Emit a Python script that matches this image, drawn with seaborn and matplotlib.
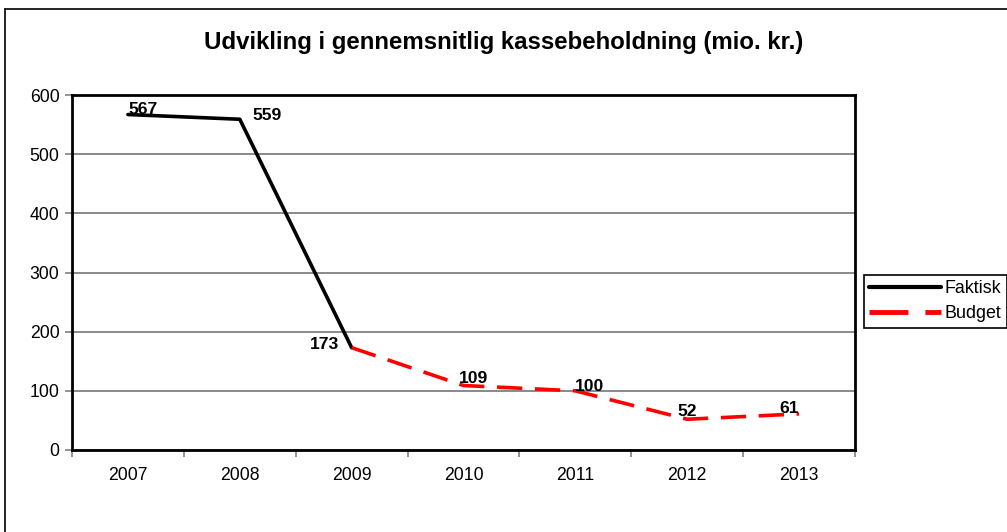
import matplotlib
matplotlib.use("Agg")
import matplotlib.pyplot as plt
import seaborn as sns
import pandas as pd
from matplotlib.lines import Line2D
from matplotlib.ticker import FixedLocator

years = ["2007", "2008", "2009", "2010", "2011", "2012", "2013"]
faktisk = [567, 559, 173]
budget = [173, 109, 100, 52, 61]
faktisk_years = years[:3]
budget_years = years[2:]

sns.set_theme(style="white")
plt.rcParams['font.family'] = ['Liberation Sans', 'DejaVu Sans']
plt.rcParams['text.color'] = 'black'

pos = {y: i for i, y in enumerate(years)}
df = pd.DataFrame({
    "year": faktisk_years + budget_years,
    "value": faktisk + budget,
    "series": ["Faktisk"] * len(faktisk) + ["Budget"] * len(budget),
})
df["x"] = df["year"].map(pos)

fig = plt.figure(figsize=(10.07, 5.32), dpi=100)
ax = fig.add_axes([72/1007, 1-450/532, (855-72)/1007, (450-95)/532])

sns.lineplot(data=df, x="x", y="value", hue="series", style="series",
             palette={"Faktisk": "black", "Budget": "#ff0000"},
             dashes={"Faktisk": "", "Budget": (7, 3.5)},
             linewidth=2.6, ax=ax, legend=False, sort=False)

ax.set_xlim(-0.5, len(years) - 0.5)
ax.set_ylim(0, 600)
ax.set_yticks(range(0, 601, 100))
ax.set_xticks(range(len(years)))
ax.set_xticklabels(years)
ax.xaxis.set_minor_locator(FixedLocator([i - 0.5 for i in range(len(years) + 1)]))
ax.tick_params(axis="x", which="major", length=0, pad=12, labelsize=12.7, colors="black")
ax.tick_params(axis="x", which="minor", length=5, width=1.2, color="#808080", direction="out", bottom=True)
ax.tick_params(axis="y", which="major", length=5, width=1.2, color="#808080", direction="out",
               left=True, labelsize=12.7, labelcolor="black", pad=4)
ax.set_xlabel("")
ax.set_ylabel("")
ax.yaxis.grid(True, color="#808080", linewidth=1.3)
ax.xaxis.grid(False)
for s in ax.spines.values():
    s.set_visible(True)
    s.set_color("black")
    s.set_linewidth(2)

# data labels
lab_style = dict(fontsize=12.6, fontweight="bold", color="black", textcoords="offset points")
pts = 0.72
ax.annotate(str(faktisk[0]), (pos[faktisk_years[0]], faktisk[0]), xytext=(0, 1*pts), ha="left", va="baseline", **lab_style)
ax.annotate(str(faktisk[1]), (pos[faktisk_years[1]], faktisk[1]), xytext=(13*pts, 4*pts), ha="left", va="center", **lab_style)
ax.annotate(str(faktisk[2]), (pos[faktisk_years[2]], faktisk[2]), xytext=(-13*pts, 3*pts), ha="right", va="center", **lab_style)
ax.annotate(str(budget[1]), (pos[budget_years[1]], budget[1]), xytext=(-5*pts, 3*pts), ha="left", va="baseline", **lab_style)
ax.annotate(str(budget[2]), (pos[budget_years[2]], budget[2]), xytext=(0, 0), ha="left", va="baseline", **lab_style)
ax.annotate(str(budget[3]), (pos[budget_years[3]], budget[3]), xytext=(0, 3.5*pts), ha="center", va="baseline", **lab_style)
ax.annotate(str(budget[4]), (pos[budget_years[4]], budget[4]), xytext=(0, 1*pts), ha="right", va="baseline", **lab_style)

fig.text(0.5 + 0.5/1007, 1-43/532, "Udvikling i gennemsnitlig kassebeholdning (mio. kr.)",
         ha="center", va="center", fontsize=17.3, fontweight="bold", color="black")

handles = [Line2D([], [], color="black", linewidth=3),
           Line2D([], [], color="#ff0000", linewidth=3.5, dashes=(8, 3.5))]
leg = fig.legend(handles, ["Faktisk", "Budget"], loc="upper left",
                 bbox_to_anchor=(864/1007, 1-275/532), bbox_transform=fig.transFigure,
                 borderaxespad=0, fontsize=12.9, frameon=True, fancybox=False, framealpha=1,
                 handlelength=4.0, handletextpad=0.2, borderpad=0.3, labelspacing=0.45)
leg.get_frame().set_edgecolor("black")
leg.get_frame().set_linewidth(1.2)
for t in leg.get_texts():
    t.set_color("black")

# outer chart border (top and left visible)
fig.add_artist(Line2D([5/1007, 1.0], [1-9/532, 1-9/532], transform=fig.transFigure, color="black", linewidth=1.2))
fig.add_artist(Line2D([5/1007, 5/1007], [1-9/532, 0.0], transform=fig.transFigure, color="black", linewidth=1.2))

fig.savefig("out.png", dpi=100)
